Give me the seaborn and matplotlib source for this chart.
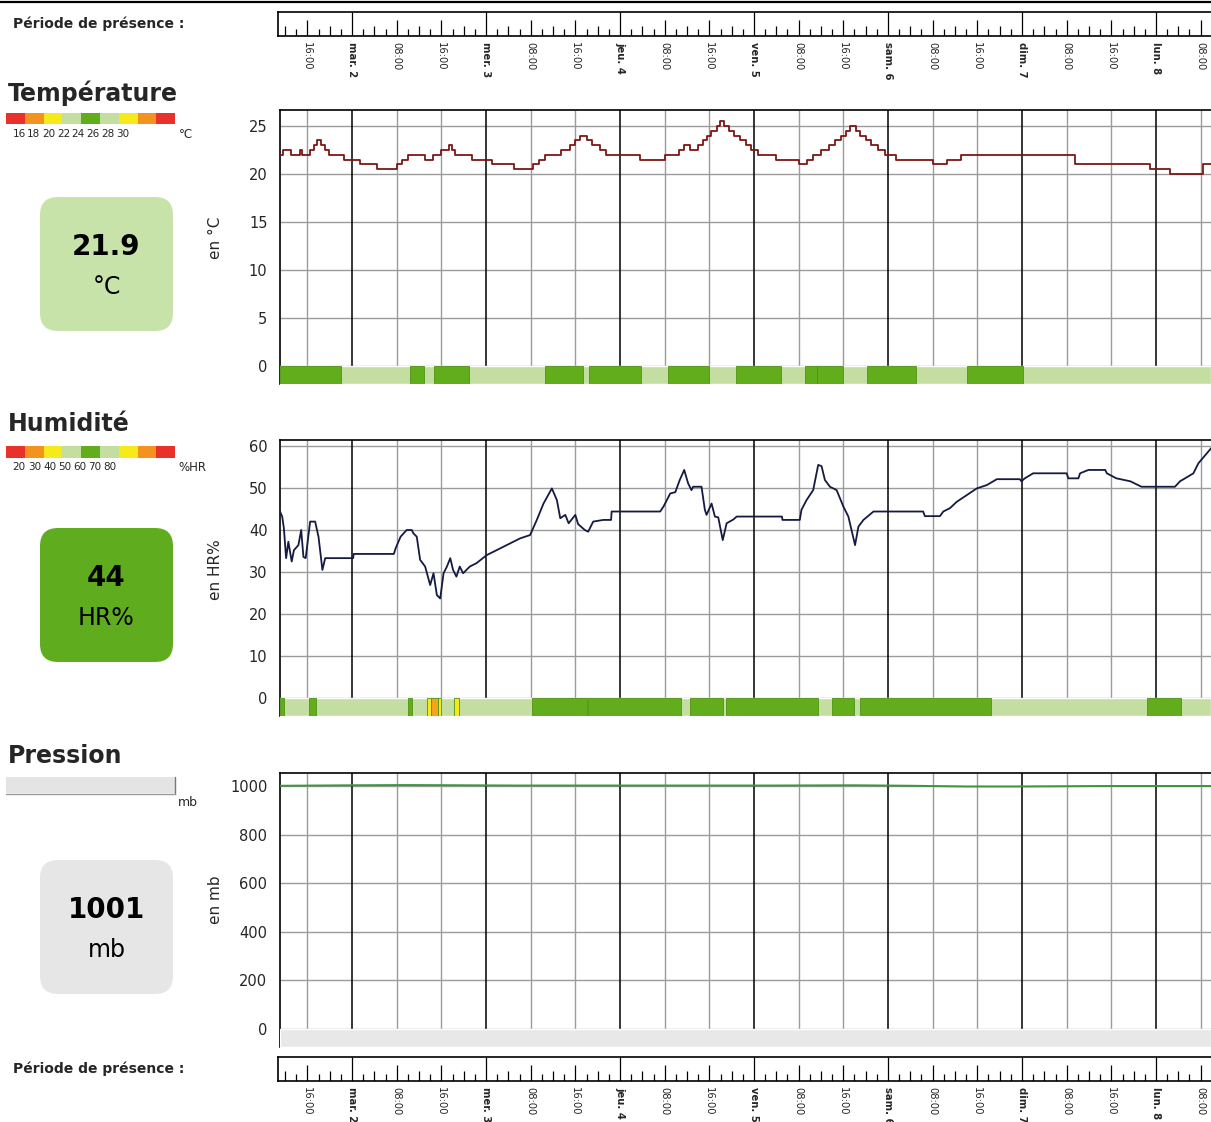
import numpy as np
import pandas as pd
import matplotlib
matplotlib.use("Agg")
import matplotlib.pyplot as plt
import seaborn as sns
from matplotlib.patches import FancyBboxPatch, Rectangle

sns.set_theme(style="white")
plt.rcParams['font.family'] = ['DejaVu Sans']

# ---------------- DATA ----------------
# time in hours relative to "mar. 2" 00:00
day_names = ["mar. 2", "mer. 3", "jeu. 4", "ven. 5", "sam. 6", "dim. 7", "lun. 8"]
hour_names = {8: "08:00", 16: "16:00"}

temp_hours = [-12.9, -12.3, -11.0, -9.3, -8.9, -7.5, -6.8, -6.2, -5.6, -4.8,
              -4.2, -1.5, 1.5, 4.5, 8.0, 9.0, 10.0, 13.0, 14.5, 16.0,
              17.3, 17.9, 18.5, 21.5, 25.0, 29.0, 32.5, 33.5, 34.5, 37.5,
              39.0, 40.0, 40.8, 42.0, 43.0, 44.5, 45.5, 51.5, 56.0, 58.5,
              59.5, 60.5, 62.0, 62.8, 63.5, 64.3, 65.3, 65.9, 66.7, 67.5,
              68.5, 69.5, 70.5, 71.5, 72.8, 76.0, 80.0, 81.5, 82.5, 84.0,
              85.5, 86.5, 87.5, 88.5, 89.2, 90.2, 91.0, 92.0, 93.0, 94.2,
              95.5, 97.5, 104.0, 106.5, 109.0, 129.5, 143.0, 146.5, 152.5, 153.9]
temp_values = [22.0, 22.5, 22.0, 22.5, 22.0, 22.5, 23.0, 23.5, 23.0, 22.5,
               22.0, 21.5, 21.0, 20.5, 21.0, 21.5, 22.0, 21.5, 22.0, 22.5,
               23.0, 22.5, 22.0, 21.5, 21.0, 20.5, 21.0, 21.5, 22.0, 22.5,
               23.0, 23.5, 24.0, 23.5, 23.0, 22.5, 22.0, 21.5, 22.0, 22.5,
               23.0, 22.5, 23.0, 23.5, 24.0, 24.5, 25.0, 25.5, 25.0, 24.5,
               24.0, 23.5, 23.0, 22.5, 22.0, 21.5, 21.0, 21.5, 22.0, 22.5,
               23.0, 23.5, 24.0, 24.5, 25.0, 24.5, 24.0, 23.5, 23.0, 22.5,
               22.0, 21.5, 21.0, 21.5, 22.0, 21.0, 20.5, 20.0, 21.0, 21.0]

hum_hours = [-12.9, -12.5, -12.2, -11.8, -11.4, -10.8, -10.4, -9.6, -9.1, -8.7,
             -8.3, -7.5, -6.6, -6.0, -5.3, -4.8, 0.2, 0.3, 7.5, 7.8,
             8.7, 9.8, 10.7, 11.0, 11.6, 12.2, 13.1, 14.0, 14.6, 15.2,
             15.8, 16.4, 17.0, 17.6, 18.1, 18.7, 19.3, 19.9, 21.1, 22.3,
             24.1, 27.1, 30.1, 31.9, 33.1, 34.3, 35.8, 36.7, 37.3, 38.2,
             38.8, 40.0, 40.5, 41.7, 42.3, 43.2, 45.0, 46.4, 46.5, 55.2,
             55.8, 57.0, 57.9, 58.7, 59.5, 60.2, 60.8, 61.1, 62.6, 63.2,
             63.5, 64.4, 65.0, 65.6, 66.4, 67.1, 68.3, 68.9, 77.0, 77.1,
             80.2, 80.5, 81.4, 82.6, 83.5, 84.1, 84.7, 85.6, 86.8, 88.0,
             88.9, 90.1, 90.7, 91.6, 93.4, 102.3, 102.6, 105.3, 105.9, 107.1,
             108.3, 110.1, 111.9, 113.7, 115.5, 119.6, 119.9, 120.5, 122.0, 128.0,
             128.3, 130.1, 130.4, 131.9, 134.9, 135.2, 136.9, 139.4, 141.4, 147.4,
             148.3, 149.2, 150.7, 151.6, 153.9]
hum_values = [44.4, 43.2, 40.4, 33.3, 37.2, 32.5, 35.2, 36.4, 40.0, 33.6,
              33.3, 42.0, 42.0, 38.4, 30.5, 33.3, 33.3, 34.3, 34.3, 35.6,
              38.4, 40.0, 40.0, 39.2, 38.4, 32.9, 31.3, 26.9, 29.7, 24.5,
              23.7, 29.7, 31.3, 33.3, 30.5, 28.9, 31.3, 29.7, 31.3, 32.1,
              34.0, 36.0, 38.0, 38.8, 42.4, 46.3, 49.9, 47.1, 42.8, 43.6,
              41.6, 43.6, 41.4, 40.0, 39.6, 42.0, 42.4, 42.4, 44.4, 44.4,
              45.6, 48.7, 49.0, 51.9, 54.3, 51.1, 49.5, 50.3, 50.3, 44.8,
              43.6, 46.3, 43.2, 43.0, 37.6, 41.6, 42.5, 43.2, 43.2, 42.4,
              42.4, 44.8, 47.1, 49.5, 55.5, 55.2, 51.9, 50.3, 49.5, 45.6,
              43.2, 36.4, 40.8, 42.4, 44.4, 44.4, 43.3, 43.3, 44.4, 45.2,
              46.7, 48.3, 49.9, 50.7, 52.1, 52.1, 51.6, 52.3, 53.5, 53.5,
              52.3, 52.3, 53.5, 54.3, 54.3, 53.5, 52.3, 51.6, 50.3, 50.3,
              51.6, 52.3, 53.5, 55.9, 59.5]

pres_hours = [-12.9, 0.0, 10.0, 20.0, 30.0, 45.0, 60.0, 75.0, 90.0, 100.0,
              110.0, 120.0, 135.0, 153.9]
pres_values = [1001, 1003, 1004, 1003, 1002, 1002, 1002, 1002, 1003, 1001,
               998, 998, 1000, 1000]

# comfort bands: (start hour, end hour, class)
temp_band = [(-12.9, -2.0, "ok"), (10.4, 12.9, "ok"), (14.7, 21.0, "ok"),
             (34.6, 41.4, "ok"), (42.4, 51.8, "ok"), (56.6, 63.9, "ok"),
             (68.8, 76.8, "ok"), (81.1, 83.2, "ok"), (83.3, 87.9, "ok"),
             (92.2, 101.0, "ok"), (110.2, 120.2, "ok")]
hum_band = [(-12.9, -12.2, "ok"), (-7.7, -6.4, "ok"), (10.1, 10.7, "ok"),
            (13.4, 14.2, "warn"), (14.2, 15.4, "alert"), (15.4, 15.9, "warn"),
            (18.2, 19.1, "warn"), (32.3, 42.0, "ok"), (42.2, 59.0, "ok"),
            (60.6, 66.5, "ok"), (67.0, 83.5, "ok"), (85.9, 90.0, "ok"),
            (91.0, 114.5, "ok"), (142.3, 148.4, "ok")]

temp_scale_colors = ["#e8312a", "#f4921f", "#f7ea1a", "#c4dea2", "#62ad1c",
                     "#c4dea2", "#f7ea1a", "#f4921f", "#e8312a"]
temp_scale_labels = ["16", "18", "20", "22", "24", "26", "28", "30"]
hum_scale_colors = ["#e8312a", "#f4921f", "#f7ea1a", "#c4dea2", "#62ad1c",
                    "#c4dea2", "#f7ea1a", "#f4921f", "#e8312a"]
hum_scale_labels = ["20", "30", "40", "50", "60", "70", "80"]

current_temp = "21.9"
current_hum = "44"
current_pres = "1001"

# ---------------- LAYOUT ----------------
W_PX, H_PX = 1211, 1122
fig = plt.figure(figsize=(W_PX / 100, H_PX / 100), dpi=100)
fig.patch.set_facecolor("white")

PX_PER_H = 134.0 / 24.0
X_DAY0 = 352.0
def px2h(x):
    return (x - X_DAY0) / PX_PER_H

band_colors = {"ok": "#62ad1c", "base": "#c4dea2", "warn": "#f7ea1a",
               "alert": "#f4a21f"}

# overlay axes in pixel coordinates
ov = fig.add_axes([0, 0, 1, 1])
ov.set_xlim(0, W_PX)
ov.set_ylim(H_PX, 0)
ov.axis("off")
ov.plot([0, W_PX], [2, 2], color="black", lw=1.6)

def main_axes(top_px, bot_px):
    left = 280
    ax = fig.add_axes([left / W_PX, 1 - bot_px / H_PX,
                       (W_PX - left) / W_PX, (bot_px - top_px) / H_PX])
    ax.set_xlim(px2h(left), px2h(W_PX))
    return ax

grid_hours = np.arange(-8, 154, 8)

def decorate(ax, yticks, ylo, ytop, band_segments, base_color):
    ax.set_ylim(ylo, ytop)
    x0, x1 = ax.get_xlim()
    for y in yticks:
        ax.hlines(y, x0, x1, color="#9b9b9b", lw=1.0, zorder=1)
    for h in grid_hours:
        col = "black" if h % 24 == 0 else "#9b9b9b"
        ax.vlines(h, 0, ytop, color=col, lw=1.1 if h % 24 == 0 else 1.0, zorder=1)
    ax.broken_barh([(x0, x1 - x0)], (ylo, -ylo), facecolors=base_color, zorder=3)
    if band_segments:
        segs = [(s, e - s) for s, e, c in band_segments]
        cols = [band_colors[c] for s, e, c in band_segments]
        ax.broken_barh(segs, (ylo, -ylo), facecolors=cols,
                       edgecolor="#4f9412", lw=0.6, zorder=4)
    ax.set_yticks(yticks)
    ax.set_yticklabels([str(v) for v in yticks], fontsize=10.5)
    ax.tick_params(axis="y", length=0, pad=9)
    ax.set_xticks([])
    for s in ["right", "bottom"]:
        ax.spines[s].set_visible(False)
    for s in ["left", "top"]:
        ax.spines[s].set_color("black")
        ax.spines[s].set_linewidth(1.2)
    ax.set_xlabel("")
    ax.set_ylabel("")

# Temperature
ax_t = main_axes(110, 384)
df_t = pd.DataFrame({"h": temp_hours, "v": temp_values})
sns.lineplot(data=df_t, x="h", y="v", ax=ax_t, color="#7d1616", lw=1.3,
             estimator=None, drawstyle="steps-post", zorder=5)
decorate(ax_t, [0, 5, 10, 15, 20, 25], (366 - 384) / 9.6, (366 - 110) / 9.6,
         temp_band, band_colors["base"])

# Humidity
ax_h = main_axes(440, 716)
df_h = pd.DataFrame({"h": hum_hours, "v": hum_values})
sns.lineplot(data=df_h, x="h", y="v", ax=ax_h, color="#151a42", lw=1.3,
             estimator=None, zorder=5)
decorate(ax_h, [0, 10, 20, 30, 40, 50, 60], (698 - 716) / 4.2, (698 - 440) / 4.2,
         hum_band, band_colors["base"])

# Pressure
ax_p = main_axes(773, 1047)
df_p = pd.DataFrame({"h": pres_hours, "v": pres_values})
pp = 243.0 / 1000.0
decorate(ax_p, [0, 200, 400, 600, 800, 1000], (1029 - 1047) / pp, (1029 - 773) / pp,
         [], "#e8e8e8")
sns.lineplot(data=df_p, x="h", y="v", ax=ax_p, color="#3f943f", lw=1.4,
             estimator=None, zorder=5)
ax_p.set_xlabel("")
ax_p.set_ylabel("")

# Presence bars
def presence(top_px, bot_px):
    left = 278
    ax = fig.add_axes([left / W_PX, 1 - bot_px / H_PX,
                       (W_PX - left) / W_PX, (bot_px - top_px) / H_PX])
    ax.set_xlim(px2h(left), px2h(W_PX))
    ax.set_ylim(0, 1)
    for h in np.arange(-12, 154, 2):
        if h % 24 == 0:
            top = 1.0
        elif h % 8 == 0:
            top = 0.68
        elif h % 4 == 0:
            top = 0.42
        else:
            top = 0.28
        ax.vlines(h, 0, top, color="black", lw=0.9)
    labels = []
    for h in grid_hours:
        if h % 24 == 0:
            labels.append(day_names[h // 24])
        else:
            labels.append(hour_names[h % 24])
    ax.set_xticks(grid_hours)
    ax.set_xticklabels(labels, rotation=-90, fontsize=7.2)
    for h, t in zip(grid_hours, ax.get_xticklabels()):
        if h % 24 == 0:
            t.set_fontweight("bold")
    ax.tick_params(axis="x", length=0, pad=4)
    ax.set_yticks([])
    ax.spines["right"].set_visible(False)
    for s in ["left", "top", "bottom"]:
        ax.spines[s].set_color("black")
        ax.spines[s].set_linewidth(1.2)
    return ax

presence(12, 36)
presence(1057, 1081)
ov.text(13, 24, "Période de présence :", fontsize=10, fontweight="bold",
        va="center", ha="left")
ov.text(13, 1069, "Période de présence :", fontsize=10, fontweight="bold",
        va="center", ha="left")

# Left panels
def value_box(y0, color, big, unit):
    box = FancyBboxPatch((40, y0), 133, 134, boxstyle="round,pad=0,rounding_size=18",
                         facecolor=color, edgecolor="none")
    ov.add_patch(box)
    ov.text(106.5, y0 + 50, big, fontsize=20, fontweight="bold", ha="center",
            va="center", color="black")
    ov.text(106.5, y0 + 90, unit, fontsize=17, ha="center", va="center",
            color="black")

ov.text(8, 93, "Température", fontsize=17, fontweight="bold", va="center")
for i, c in enumerate(temp_scale_colors):
    ov.add_patch(Rectangle((6 + i * 18.8, 113), 18.8, 11, facecolor=c,
                           edgecolor="none"))
for i, lab in enumerate(temp_scale_labels):
    ov.text(19 + i * 14.8, 134, lab, fontsize=7.5, ha="center", va="center")
ov.text(186, 134, "°C", fontsize=8.5, ha="center", va="center")
value_box(197, "#c8e3a9", current_temp, "°C")

ov.text(8, 424, "Humidité", fontsize=17, fontweight="bold", va="center")
for i, c in enumerate(hum_scale_colors):
    ov.add_patch(Rectangle((6 + i * 18.8, 446), 18.8, 12, facecolor=c,
                           edgecolor="none"))
hx = [19, 35, 50, 65, 80, 95, 110]
for x, lab in zip(hx, hum_scale_labels):
    ov.text(x, 467, lab, fontsize=7.5, ha="center", va="center")
ov.text(192, 467, "%HR", fontsize=8.5, ha="center", va="center")
value_box(528, "#5fad1f", current_hum, "HR%")

ov.text(8, 756, "Pression", fontsize=17, fontweight="bold", va="center")
ov.add_patch(Rectangle((6, 777), 169, 16, facecolor="#e4e4e4", edgecolor="none"))
ov.plot([175, 175], [777, 794], color="#777777", lw=1)
ov.plot([6, 175], [794, 794], color="#999999", lw=1)
ov.text(188, 802, "mb", fontsize=9, ha="center", va="center")
value_box(860, "#e6e6e6", current_pres, "mb")

ov.text(215, 238, "en °C", rotation=90, fontsize=11, ha="center", va="center")
ov.text(215, 570, "en HR%", rotation=90, fontsize=11, ha="center", va="center")
ov.text(215, 900, "en mb", rotation=90, fontsize=11, ha="center", va="center")

fig.savefig("out.png", dpi=100, facecolor="white")
